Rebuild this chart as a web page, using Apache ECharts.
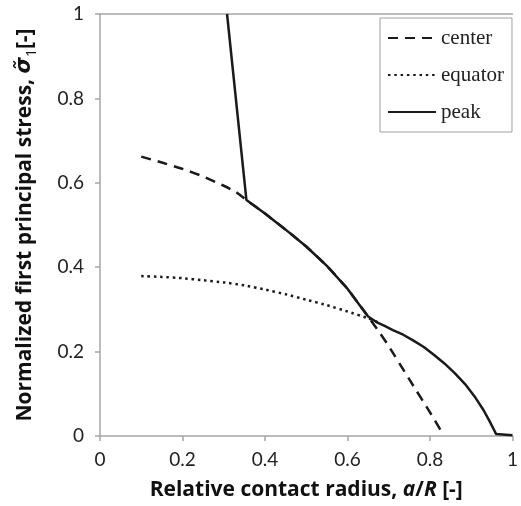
<!DOCTYPE html>
<html>
<head>
<meta charset="utf-8">
<script src="https://cdn.jsdelivr.net/npm/echarts@6/dist/echarts.min.js"></script>
<style>
  html, body { margin: 0; padding: 0; background: #fff; }
  #chart { width: 521px; height: 506px; }
</style>
</head>
<body>
<div id="chart"></div>
<script>
// relative contact radius a/R and normalized stress
const centerX = [0.1, 0.15, 0.2, 0.25, 0.3, 0.33, 0.355, 0.4, 0.45, 0.5, 0.55, 0.6, 0.625, 0.65, 0.68, 0.7, 0.75, 0.8, 0.827];
const centerY = [0.662, 0.648, 0.633, 0.615, 0.593, 0.578, 0.559, 0.527, 0.489, 0.449, 0.403, 0.349, 0.316, 0.283, 0.242, 0.213, 0.134, 0.056, 0.012];

const equatorX = [0.1, 0.15, 0.2, 0.25, 0.3, 0.35, 0.4, 0.45, 0.5, 0.55, 0.6, 0.65, 0.68];
const equatorY = [0.379, 0.377, 0.374, 0.369, 0.364, 0.357, 0.347, 0.336, 0.323, 0.31, 0.295, 0.279, 0.267];

const peakX = [0.308, 0.355, 0.4, 0.45, 0.5, 0.55, 0.6, 0.625, 0.65, 0.67, 0.69, 0.71, 0.735, 0.76, 0.785, 0.81, 0.835, 0.86, 0.885, 0.91, 0.93, 0.945, 0.956, 0.96, 1.0];
const peakY = [1.0, 0.559, 0.527, 0.489, 0.449, 0.403, 0.349, 0.316, 0.283, 0.27, 0.261, 0.251, 0.24, 0.226, 0.211, 0.192, 0.172, 0.149, 0.123, 0.091, 0.061, 0.034, 0.013, 0.005, 0.002];

const xTicks = [0, 0.2, 0.4, 0.6, 0.8, 1];

const pairs = (xs, ys) => xs.map((x, i) => [x, ys[i]]);

const chart = echarts.init(document.getElementById('chart'));

const axisGray = '#a6a6a6';
const ink = '#1a1a1a';
const labelFont = { fontFamily: 'Lato', fontSize: 19, color: '#222' };

const option = {
  animation: false,
  color: [ink, ink, ink],
  grid: { left: 100, right: 0, top: 14, bottom: 70 },
  legend: {
    orient: 'vertical',
    left: 380,
    top: 18,
    padding: [9, 8, 9, 7],
    itemWidth: 48,
    itemHeight: 14,
    itemGap: 15,
    borderColor: '#a0a0a0',
    borderWidth: 1,
    itemStyle: { opacity: 0 },
    textStyle: { fontFamily: 'Liberation Serif', fontSize: 21, color: '#222', lineHeight: 22 },
    data: ['center', 'equator', 'peak']
  },
  xAxis: [
    {
      type: 'value',
      min: 0,
      max: 1,
      interval: 0.2,
      axisLine: { lineStyle: { color: axisGray, width: 1.5 } },
      axisTick: { show: true, length: 5, lineStyle: { color: axisGray, width: 1.5 } },
      axisLabel: Object.assign({ margin: 14, formatter: v => xTicks.includes(+v.toFixed(1)) ? String(+v.toFixed(1)) : '' }, labelFont),
      splitLine: { show: false },
      name: '{b|Relative contact radius, }{i|a}{b|/}{i|R}{b| [-]}',
      nameLocation: 'middle',
      nameGap: 44,
      nameTextStyle: {
        rich: {
          b: { fontFamily: 'Open Sans', fontWeight: 'bold', fontSize: 21, color: '#111' },
          i: { fontFamily: 'Open Sans', fontWeight: 'bold', fontStyle: 'italic', fontSize: 21, color: '#111' }
        }
      }
    },
    {
      type: 'value',
      position: 'top',
      min: 0,
      max: 1,
      axisLine: { show: true, lineStyle: { color: axisGray, width: 1.5 } },
      axisTick: { show: false },
      axisLabel: { show: false },
      splitLine: { show: false }
    }
  ],
  yAxis: {
    type: 'value',
    min: 0,
    max: 1,
    interval: 0.2,
    axisLine: { show: true, lineStyle: { color: axisGray, width: 1.5 } },
    axisTick: { show: true, length: 5, lineStyle: { color: axisGray, width: 1.5 } },
    axisLabel: Object.assign({ margin: 16 }, labelFont),
    splitLine: { show: false },
    name: '{b|Normalized first principal stress, }{s|σ̃}{sub|1}{b|[-]}',
    nameLocation: 'middle',
    nameGap: 61,
    nameTextStyle: {
      rich: {
        b: { fontFamily: 'Open Sans', fontWeight: 'bold', fontSize: 21, color: '#111', lineHeight: 28 },
        s: { fontFamily: 'DejaVu Sans', fontWeight: 'bold', fontStyle: 'italic', fontSize: 21, color: '#111', lineHeight: 28 },
        sub: { fontFamily: 'Open Sans', fontSize: 14, color: '#111', lineHeight: 28, verticalAlign: 'bottom', padding: [9, 0, 0, 0] }
      }
    }
  },
  series: [
    {
      name: 'center',
      type: 'line',
      symbol: 'none',
      smooth: 0.15,
      data: pairs(centerX, centerY),
      lineStyle: { color: ink, width: 2.5, type: [10, 7] }
    },
    {
      name: 'equator',
      type: 'line',
      symbol: 'none',
      smooth: 0.15,
      data: pairs(equatorX, equatorY),
      lineStyle: { color: ink, width: 2.5, type: [2.5, 3.8] }
    },
    {
      name: 'peak',
      type: 'line',
      symbol: 'none',
      data: pairs(peakX, peakY),
      lineStyle: { color: ink, width: 2.5 }
    }
  ]
};

chart.setOption(option);
</script>
</body>
</html>
